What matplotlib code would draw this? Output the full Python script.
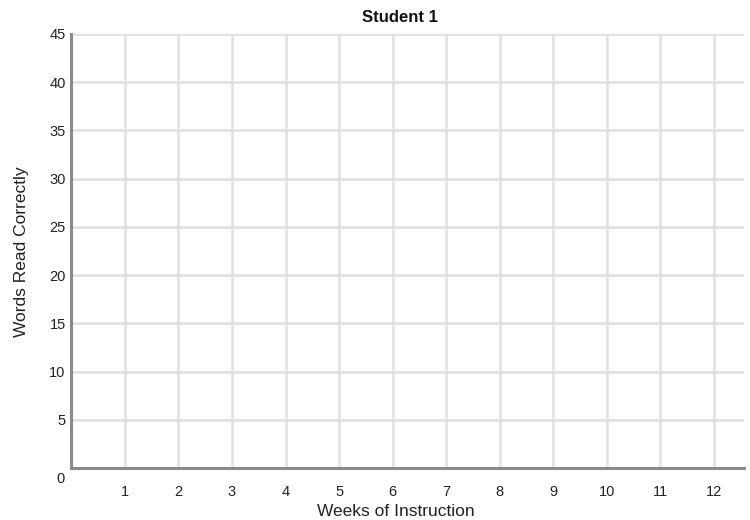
import matplotlib
matplotlib.use("Agg")
import matplotlib.pyplot as plt

# empty progress-monitoring grid
title = "Student 1"
weeks = list(range(1, 13))
word_ticks = list(range(5, 50, 5))
x_label = "Weeks of Instruction"
y_label = "Words Read Correctly"

plt.rcParams["font.family"] = ["Liberation Sans", "DejaVu Sans"]

fig = plt.figure(figsize=(7.5, 5.2), dpi=100)
ax = fig.add_axes([0.095, 0.1, 0.897, 0.835])

ax.set_xlim(0, 12.56)
ax.set_ylim(0, 45)
ax.set_xticks(weeks)
ax.set_xticklabels([str(w) for w in weeks], fontsize=10.5, color="#222222")
ax.set_yticks(word_ticks)
ax.set_yticklabels([str(v) for v in word_ticks], fontsize=10.5, color="#222222")
ax.tick_params(axis="both", length=0)
ax.tick_params(axis="x", pad=12.5)
ax.tick_params(axis="y", pad=4)

# zero label sits below the axis line
ax.annotate("0", xy=(0, 0), xytext=(-5, -8), textcoords="offset points",
            ha="right", va="center", fontsize=10.5, color="#222222",
            annotation_clip=False)

ax.grid(True, color="#e0e0e0", linewidth=1.8)
ax.set_axisbelow(True)

for side in ("top", "right"):
    ax.spines[side].set_visible(False)
ax.spines["left"].set_color("#8a8a8a")
ax.spines["left"].set_linewidth(2.2)
ax.spines["bottom"].set_color("#8a8a8a")
ax.spines["bottom"].set_linewidth(2.2)

fig.text(396 / 750, 1 - 511 / 520, x_label, ha="center", va="center",
         fontsize=12.5, color="#222222")
fig.text(22 / 750, 1 - 252 / 520, y_label, ha="center", va="center",
         rotation=90, fontsize=12.5, color="#222222")
fig.text(400 / 750, 1 - 17 / 520, title, ha="center", va="center",
         fontsize=12, fontweight="bold", color="#111111")

fig.savefig("out.png", dpi=100)
